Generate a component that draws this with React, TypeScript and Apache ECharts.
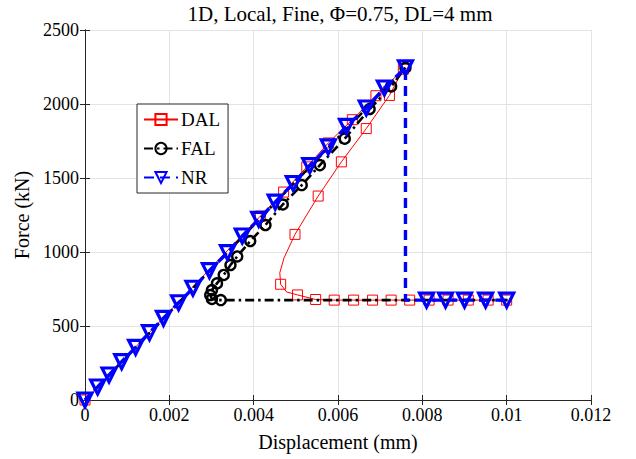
import React, { useEffect, useRef } from "react";
import * as echarts from "echarts";

// ---- data (displacement mm, force kN) ----
const titleText = "1D, Local, Fine, \u03A6=0.75, DL=4 mm";
const seriesNames = ["DAL", "FAL", "NR"];

// DAL: marker flag 1 = marker drawn, 0 = curve point only
const dalX = [0, 0.00416, 0.00471, 0.00526, 0.00577, 0.00634, 0.0069, 0.00755, 0.00722, 0.00667, 0.00608, 0.00553, 0.00498, 0.00472, 0.00462, 0.00464, 0.00478, 0.00504, 0.00547, 0.00591, 0.00637, 0.00682, 0.00726, 0.0077, 0.00816, 0.00861, 0.00909, 0.00956, 0.01];
const dalY = [0, 1243, 1405, 1575, 1737, 1894, 2056, 2235, 2058, 1834, 1609, 1378, 1119, 960, 860, 782, 730, 710, 679, 675, 675, 675, 675, 675, 675, 675, 675, 675, 675];
const dalMark = [1, 1, 1, 1, 1, 1, 1, 1, 1, 1, 1, 1, 1, 0, 0, 1, 0, 1, 1, 1, 1, 1, 1, 1, 1, 1, 1, 1, 1];

const falX = [0, 0.0076, 0.00726, 0.00675, 0.00616, 0.00557, 0.00514, 0.00469, 0.00428, 0.00392, 0.00361, 0.00345, 0.00329, 0.00313, 0.00301, 0.00297, 0.00301, 0.00322, 0.0101];
const falY = [0, 2245, 2119, 1966, 1766, 1587, 1452, 1321, 1182, 1074, 970, 912, 845, 788, 743, 709, 683, 675, 675];
const falMark = [0, 1, 1, 1, 1, 1, 1, 1, 1, 1, 1, 1, 1, 1, 1, 1, 1, 1, 0];

const nrX = [0, 0.0003, 0.00057, 0.00087, 0.0012, 0.00153, 0.00186, 0.00222, 0.00256, 0.00295, 0.00338, 0.00373, 0.00412, 0.00451, 0.00494, 0.00533, 0.00577, 0.0062, 0.00667, 0.0071, 0.0076, 0.0076, 0.0081, 0.00855, 0.009, 0.0095, 0.01];
const nrY = [0, 88, 169, 259, 356, 455, 552, 657, 755, 874, 996, 1108, 1221, 1337, 1463, 1584, 1710, 1849, 1973, 2108, 2245, 675, 675, 675, 675, 675, 675];
const nrMark = [1, 1, 1, 1, 1, 1, 1, 1, 1, 1, 1, 1, 1, 1, 1, 1, 1, 1, 1, 1, 1, 0, 1, 1, 1, 1, 1];

const xMin = 0, xMax = 0.012, xStep = 0.002;
const yMin = 0, yMax = 2500, yStep = 500;

const FONT = "'Liberation Serif', 'DejaVu Serif', serif";
const AXIS = "#262626";

function build(xs: number[], ys: number[], marks: number[]) {
  return xs.map((x, i) => (marks[i] ? [x, ys[i]] : { value: [x, ys[i]], symbol: "none" }));
}

export default function App() {
  const ref = useRef<HTMLDivElement>(null);
  useEffect(() => {
    if (!ref.current) return;
    const chart = echarts.init(ref.current, null, { renderer: "svg" });
    const fmtX = (v: number) => String(parseFloat(v.toFixed(4)));
    const fmtY = (v: number) => String(Math.round(v));
    const hiddenAxis = {
      show: true,
      axisLine: { show: true, lineStyle: { color: AXIS, width: 1 } },
      axisTick: { show: true, inside: true, length: 5, lineStyle: { color: AXIS } },
      axisLabel: { show: false },
      splitLine: { show: false },
    };
    chart.setOption({
      animation: false,
      backgroundColor: "#ffffff",
      graphic: [
        {
          type: "text",
          x: 340,
          y: 14,
          style: { text: titleText, font: `21px ${FONT}`, fill: "#000", align: "center", verticalAlign: "middle" },
        },
      ],
      grid: { left: 85, right: 45, top: 30, bottom: 59, containLabel: false },
      legend: {
        orient: "vertical",
        left: 137,
        top: 104,
        data: seriesNames,
        backgroundColor: "#fff",
        borderColor: AXIS,
        borderWidth: 1,
        borderRadius: 0,
        padding: [6, 8, 6, 6],
        itemGap: 10,
        itemWidth: 34,
        itemHeight: 14,
        textStyle: { fontFamily: FONT, fontSize: 19, color: "#000", padding: [0, 0, 0, -2] },
      },
      xAxis: [
        {
          type: "value",
          min: xMin,
          max: xMax,
          interval: xStep,
          name: "Displacement (mm)",
          nameLocation: "middle",
          nameGap: 32,
          nameTextStyle: { fontFamily: FONT, fontSize: 20, color: "#000" },
          axisLine: { show: true, onZero: false, lineStyle: { color: AXIS, width: 1 } },
          axisTick: { show: true, inside: true, length: 5, lineStyle: { color: AXIS } },
          axisLabel: { fontFamily: FONT, fontSize: 18, color: "#000", margin: 6, formatter: fmtX },
          splitLine: { show: true, lineStyle: { color: "#e3e3e3", width: 1 } },
        },
        { type: "value", position: "top", min: xMin, max: xMax, interval: xStep, ...hiddenAxis },
      ],
      yAxis: [
        {
          type: "value",
          min: yMin,
          max: yMax,
          interval: yStep,
          name: "Force (kN)",
          nameLocation: "middle",
          nameGap: 48,
          nameTextStyle: { fontFamily: FONT, fontSize: 20, color: "#000" },
          axisLine: { show: true, onZero: false, lineStyle: { color: AXIS, width: 1 } },
          axisTick: { show: true, inside: true, length: 5, lineStyle: { color: AXIS } },
          axisLabel: { fontFamily: FONT, fontSize: 18, color: "#000", margin: 6, formatter: fmtY },
          splitLine: { show: true, lineStyle: { color: "#e3e3e3", width: 1 } },
        },
        { type: "value", position: "right", min: yMin, max: yMax, interval: yStep, ...hiddenAxis },
      ],
      series: [
        {
          name: "DAL",
          type: "line",
          data: build(dalX, dalY, dalMark),
          symbol: "rect",
          symbolSize: 10,
          showAllSymbol: true,
          lineStyle: { color: "#ff0000", width: 1 },
          itemStyle: { color: "rgba(0,0,0,0)", borderColor: "#ff0000", borderWidth: 1 },
          z: 2,
        },
        {
          name: "FAL",
          type: "line",
          data: build(falX, falY, falMark),
          symbol: "circle",
          symbolSize: 10,
          showAllSymbol: true,
          lineStyle: { color: "#000000", width: 2.6, type: [9, 4, 2.5, 4] },
          itemStyle: { color: "rgba(0,0,0,0)", borderColor: "#000000", borderWidth: 2.4 },
          z: 3,
        },
        {
          name: "NR",
          type: "line",
          data: build(nrX, nrY, nrMark),
          symbol: "triangle",
          symbolRotate: 180,
          symbolSize: 14,
          showAllSymbol: true,
          lineStyle: { color: "#0000ff", width: 3.4, type: [10, 6] },
          itemStyle: { color: "rgba(0,0,0,0)", borderColor: "#0000ff", borderWidth: 3.2 },
          z: 4,
        },
      ],
    });
    return () => chart.dispose();
  }, []);
  return <div ref={ref} style={{ position: "fixed", left: 0, top: 0, width: 636, height: 459 }} />;
}
